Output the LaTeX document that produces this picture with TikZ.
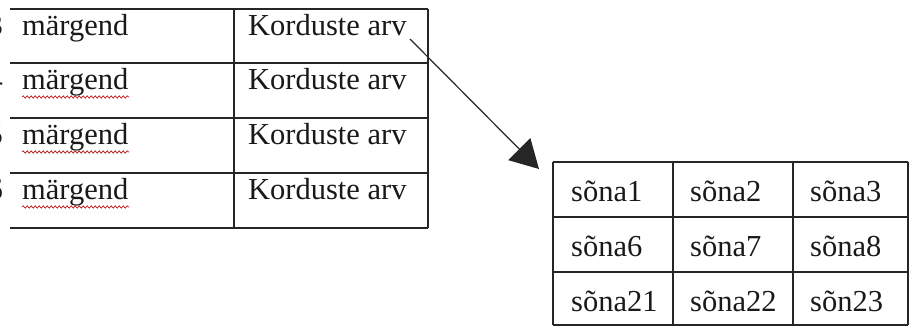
\documentclass[tikz,border=0pt]{standalone}
\usepackage{fontspec}
\setmainfont{Liberation Serif}
\usetikzlibrary{arrows.meta,decorations.pathmorphing}
\begin{document}
\begin{tikzpicture}[x=1pt,y=-1pt,
  grid/.style={line width=1.5pt, black!85},
  cell/.style={anchor=base west, inner sep=0pt, font=\fontsize{30.5}{34}\selectfont, text=black!90},
  num/.style={anchor=base east, inner sep=0pt, font=\fontsize{30.5}{34}\selectfont, text=black!90},
  spell/.style={red!70!black, line width=0.6pt, decorate, decoration={snake, amplitude=1.2pt, segment length=4pt}},
  link/.style={line width=1.2pt, black!85, -{Triangle[length=28pt,width=31pt]}}]
\useasboundingbox (0,0) rectangle (911,328);
\clip (0,0) rectangle (911,328);
% left table
\foreach \y in {9,63,118,173,228} \draw[grid] (10,\y) -- (428,\y);
\draw[grid] (234,9) -- (234,228);
\draw[grid] (428,9) -- (428,228);
\node[num] (d1) at (3,36) {3};
\node[num] (d2) at (3,90) {4};
\node[num] (d3) at (3,145) {5};
\node[num] (d4) at (3,200) {6};
\node[cell] (m1) at (22,36) {märgend};
\node[cell] (m2) at (22,90) {märgend};
\node[cell] (m3) at (22,145) {märgend};
\node[cell] (m4) at (22,200) {märgend};
\draw[spell] (m2.base west) ++(0,7) -- ++(107,0);
\draw[spell] (m3.base west) ++(0,7) -- ++(107,0);
\draw[spell] (m4.base west) ++(0,7) -- ++(107,0);
\node[cell] (k1) at (248,36) {Korduste arv};
\node[cell] (k2) at (248,90) {Korduste arv};
\node[cell] (k3) at (248,145) {Korduste arv};
\node[cell] (k4) at (248,200) {Korduste arv};
% right table
\foreach \y in {162,217,272,325} \draw[grid] (553,\y) -- (908,\y);
\foreach \x in {553,673,793,908} \draw[grid] (\x,162) -- (\x,325);
\node[cell] (s1) at (571,202) {sõna1};
\node[cell] (s2) at (690,202) {sõna2};
\node[cell] (s3) at (810,202) {sõna3};
\node[cell] (s6) at (571,257) {sõna6};
\node[cell] (s7) at (690,257) {sõna7};
\node[cell] (s8) at (810,257) {sõna8};
\node[cell] (s21) at (571,312) {sõna21};
\node[cell] (s22) at (690,312) {sõna22};
\node[cell] (s23) at (810,312) {sõn23};
% arrow
\coordinate (from) at (410,39);
\coordinate (to) at (539,169);
\draw[link] (from) -- (to);
\end{tikzpicture}
\end{document}
